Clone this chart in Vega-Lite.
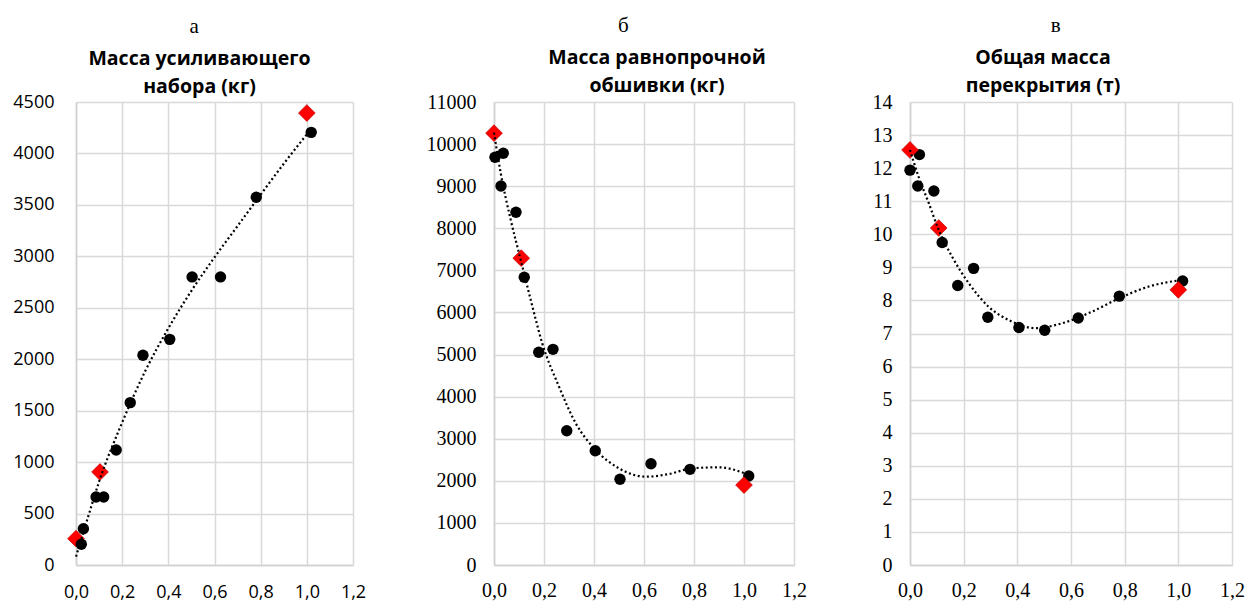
{
  "$schema": "https://vega.github.io/schema/vega-lite/v6.json",
  "padding": {"left": 12, "top": 14, "right": 0, "bottom": 0},
  "background": "white",
  "datasets": {
    "a_pts": [
      {"x": 0.0, "y": 256, "s": "red"},
      {"x": 0.104, "y": 904, "s": "red"},
      {"x": 1.0, "y": 4393, "s": "red"},
      {"x": 0.023, "y": 201, "s": "black"},
      {"x": 0.032, "y": 353, "s": "black"},
      {"x": 0.087, "y": 661, "s": "black"},
      {"x": 0.12, "y": 661, "s": "black"},
      {"x": 0.174, "y": 1118, "s": "black"},
      {"x": 0.235, "y": 1578, "s": "black"},
      {"x": 0.29, "y": 2038, "s": "black"},
      {"x": 0.406, "y": 2193, "s": "black"},
      {"x": 0.503, "y": 2800, "s": "black"},
      {"x": 0.626, "y": 2800, "s": "black"},
      {"x": 0.781, "y": 3574, "s": "black"},
      {"x": 1.019, "y": 4205, "s": "black"}
    ],
    "a_trend": [
      {"x": 0.0, "y": 81}, {"x": 0.05, "y": 450}, {"x": 0.1, "y": 810}, {"x": 0.2, "y": 1385},
      {"x": 0.3, "y": 1885}, {"x": 0.4, "y": 2300}, {"x": 0.5, "y": 2665}, {"x": 0.6, "y": 2990},
      {"x": 0.7, "y": 3295}, {"x": 0.8, "y": 3600}, {"x": 0.9, "y": 3900}, {"x": 1.0, "y": 4185},
      {"x": 1.02, "y": 4240}
    ],
    "b_pts": [
      {"x": 0.004, "y": 9686, "s": "black"},
      {"x": 0.028, "y": 9004, "s": "black"},
      {"x": 0.037, "y": 9781, "s": "black"},
      {"x": 0.088, "y": 8380, "s": "black"},
      {"x": 0.121, "y": 6835, "s": "black"},
      {"x": 0.179, "y": 5053, "s": "black"},
      {"x": 0.236, "y": 5124, "s": "black"},
      {"x": 0.291, "y": 3191, "s": "black"},
      {"x": 0.405, "y": 2716, "s": "black"},
      {"x": 0.504, "y": 2036, "s": "black"},
      {"x": 0.628, "y": 2407, "s": "black"},
      {"x": 0.784, "y": 2273, "s": "black"},
      {"x": 1.019, "y": 2114, "s": "black"},
      {"x": 0.0, "y": 10260, "s": "red"},
      {"x": 0.109, "y": 7290, "s": "red"},
      {"x": 1.0, "y": 1900, "s": "red"}
    ],
    "b_trend": [
      {"x": 0.0, "y": 10271}, {"x": 0.027, "y": 9306}, {"x": 0.067, "y": 8197}, {"x": 0.107, "y": 7246},
      {"x": 0.147, "y": 6296}, {"x": 0.193, "y": 5267}, {"x": 0.26, "y": 4237}, {"x": 0.327, "y": 3366},
      {"x": 0.407, "y": 2732}, {"x": 0.5, "y": 2297}, {"x": 0.607, "y": 2098}, {"x": 0.7, "y": 2162},
      {"x": 0.793, "y": 2297}, {"x": 0.9, "y": 2321}, {"x": 1.02, "y": 2138}
    ],
    "c_pts": [
      {"x": 0.0, "y": 11.94, "s": "black"},
      {"x": 0.029, "y": 11.46, "s": "black"},
      {"x": 0.035, "y": 12.41, "s": "black"},
      {"x": 0.089, "y": 11.31, "s": "black"},
      {"x": 0.12, "y": 9.75, "s": "black"},
      {"x": 0.178, "y": 8.45, "s": "black"},
      {"x": 0.237, "y": 8.97, "s": "black"},
      {"x": 0.29, "y": 7.49, "s": "black"},
      {"x": 0.406, "y": 7.18, "s": "black"},
      {"x": 0.502, "y": 7.1, "s": "black"},
      {"x": 0.627, "y": 7.47, "s": "black"},
      {"x": 0.78, "y": 8.13, "s": "black"},
      {"x": 1.016, "y": 8.59, "s": "black"},
      {"x": 0.0, "y": 12.55, "s": "red"},
      {"x": 0.107, "y": 10.19, "s": "red"},
      {"x": 1.0, "y": 8.32, "s": "red"}
    ],
    "c_trend": [
      {"x": 0.0, "y": 12.55}, {"x": 0.032, "y": 11.74}, {"x": 0.07, "y": 10.94}, {"x": 0.107, "y": 10.13},
      {"x": 0.157, "y": 9.32}, {"x": 0.219, "y": 8.52}, {"x": 0.293, "y": 7.81}, {"x": 0.38, "y": 7.36},
      {"x": 0.467, "y": 7.16}, {"x": 0.567, "y": 7.31}, {"x": 0.678, "y": 7.66}, {"x": 0.778, "y": 8.06},
      {"x": 0.89, "y": 8.42}, {"x": 1.014, "y": 8.62}
    ]
  },
  "hconcat": [
    {
      "title": {"text": "а", "font": "Liberation Serif", "fontSize": 21, "fontWeight": "normal", "color": "#000000", "anchor": "middle", "dx": 5, "offset": 12},
      "vconcat": [
        {
          "width": 277, "height": 463,
          "title": {"text": ["Масса усиливающего", "набора (кг)"], "font": "Open Sans", "fontSize": 19.5, "fontWeight": "bold", "color": "#000000", "lineHeight": 28, "anchor": "middle", "offset": -4, "dx": -15},
          "layer": [
            {
              "data": {"name": "a_pts"},
              "transform": [{"filter": "datum.s === 'red'"}],
              "mark": {"type": "point", "shape": "diamond", "filled": true, "size": 280, "fill": "#ff0000", "stroke": "#c00000", "strokeWidth": 0.7, "opacity": 1},
              "encoding": {
                "x": {"field": "x", "type": "quantitative", "scale": {"domain": [0, 1.2], "nice": false},
                  "axis": {"values": [0, 0.2, 0.4, 0.6, 0.8, 1.0, 1.2], "tickCount": 20, "labelExpr": "replace(format(datum.value, '.1f'), '.', ',')", "title": null, "labelFont": "Open Sans", "labelFontSize": 18, "labelPadding": 18}},
                "y": {"field": "y", "type": "quantitative", "scale": {"domain": [0, 4500], "nice": false},
                  "axis": {"values": [0, 500, 1000, 1500, 2000, 2500, 3000, 3500, 4000, 4500], "tickCount": 20, "format": "d", "title": null, "labelFont": "Open Sans", "labelFontSize": 18, "labelPadding": 22}}
              }
            },
            {
              "data": {"name": "a_pts"},
              "transform": [{"filter": "datum.s === 'black'"}],
              "mark": {"type": "circle", "size": 130, "color": "#000000", "opacity": 1},
              "encoding": {"x": {"field": "x", "type": "quantitative"}, "y": {"field": "y", "type": "quantitative"}}
            },
            {
              "data": {"name": "a_trend"},
              "mark": {"type": "line", "interpolate": "monotone", "color": "#000000", "strokeWidth": 2.2, "strokeDash": [2, 2.6]},
              "encoding": {"x": {"field": "x", "type": "quantitative"}, "y": {"field": "y", "type": "quantitative"}}
            }
          ]
        }
      ]
    },
    {
      "title": {"text": "б", "font": "Liberation Serif", "fontSize": 21, "fontWeight": "normal", "color": "#000000", "anchor": "middle", "dx": 7, "offset": 12},
      "vconcat": [
        {
          "width": 300, "height": 463,
          "title": {"text": ["Масса равнопрочной", "обшивки (кг)"], "font": "Open Sans", "fontSize": 19.5, "fontWeight": "bold", "color": "#000000", "lineHeight": 28, "anchor": "middle", "offset": -4, "dx": 13},
          "layer": [
            {
              "data": {"name": "b_pts"},
              "transform": [{"filter": "datum.s === 'black'"}],
              "mark": {"type": "circle", "size": 130, "color": "#000000", "opacity": 1},
              "encoding": {
                "x": {"field": "x", "type": "quantitative", "scale": {"domain": [0, 1.2], "nice": false},
                  "axis": {"values": [0, 0.2, 0.4, 0.6, 0.8, 1.0, 1.2], "tickCount": 20, "labelExpr": "replace(format(datum.value, '.1f'), '.', ',')", "title": null, "labelFont": "Liberation Serif", "labelFontSize": 20, "labelPadding": 15}},
                "y": {"field": "y", "type": "quantitative", "scale": {"domain": [0, 11000], "nice": false},
                  "axis": {"values": [0, 1000, 2000, 3000, 4000, 5000, 6000, 7000, 8000, 9000, 10000, 11000], "tickCount": 20, "format": "d", "title": null, "labelFont": "Liberation Serif", "labelFontSize": 20, "labelPadding": 18}}
              }
            },
            {
              "data": {"name": "b_pts"},
              "transform": [{"filter": "datum.s === 'red'"}],
              "mark": {"type": "point", "shape": "diamond", "filled": true, "size": 280, "fill": "#ff0000", "stroke": "#c00000", "strokeWidth": 0.7, "opacity": 1},
              "encoding": {"x": {"field": "x", "type": "quantitative"}, "y": {"field": "y", "type": "quantitative"}}
            },
            {
              "data": {"name": "b_trend"},
              "mark": {"type": "line", "interpolate": "monotone", "color": "#000000", "strokeWidth": 2.2, "strokeDash": [2, 2.6]},
              "encoding": {"x": {"field": "x", "type": "quantitative"}, "y": {"field": "y", "type": "quantitative"}}
            }
          ]
        }
      ]
    },
    {
      "title": {"text": "в", "font": "Liberation Serif", "fontSize": 21, "fontWeight": "normal", "color": "#000000", "anchor": "middle", "dx": 0, "offset": 12},
      "vconcat": [
        {
          "width": 322, "height": 463,
          "title": {"text": ["Общая масса", "перекрытия (т)"], "font": "Open Sans", "fontSize": 19.5, "fontWeight": "bold", "color": "#000000", "lineHeight": 28, "anchor": "middle", "offset": -4, "dx": -28},
          "layer": [
            {
              "data": {"name": "c_pts"},
              "transform": [{"filter": "datum.s === 'black'"}],
              "mark": {"type": "circle", "size": 130, "color": "#000000", "opacity": 1},
              "encoding": {
                "x": {"field": "x", "type": "quantitative", "scale": {"domain": [0, 1.2], "nice": false},
                  "axis": {"values": [0, 0.2, 0.4, 0.6, 0.8, 1.0, 1.2], "tickCount": 20, "labelExpr": "replace(format(datum.value, '.1f'), '.', ',')", "title": null, "labelFont": "Liberation Serif", "labelFontSize": 20, "labelPadding": 15}},
                "y": {"field": "y", "type": "quantitative", "scale": {"domain": [0, 14], "nice": false},
                  "axis": {"values": [0, 1, 2, 3, 4, 5, 6, 7, 8, 9, 10, 11, 12, 13, 14], "tickCount": 20, "format": "d", "title": null, "labelFont": "Liberation Serif", "labelFontSize": 20, "labelPadding": 18, "minExtent": 43}}
              }
            },
            {
              "data": {"name": "c_pts"},
              "transform": [{"filter": "datum.s === 'red'"}],
              "mark": {"type": "point", "shape": "diamond", "filled": true, "size": 280, "fill": "#ff0000", "stroke": "#c00000", "strokeWidth": 0.7, "opacity": 1},
              "encoding": {"x": {"field": "x", "type": "quantitative"}, "y": {"field": "y", "type": "quantitative"}}
            },
            {
              "data": {"name": "c_trend"},
              "mark": {"type": "line", "interpolate": "monotone", "color": "#000000", "strokeWidth": 2.2, "strokeDash": [2, 2.6]},
              "encoding": {"x": {"field": "x", "type": "quantitative"}, "y": {"field": "y", "type": "quantitative"}}
            }
          ]
        }
      ]
    }
  ],
  "spacing": 60,
  "config": {
    "view": {"stroke": null},
    "axis": {"grid": true, "gridColor": "#d9d9d9", "gridWidth": 1.5, "domainColor": "#d0d0d0", "domainWidth": 1.5, "ticks": false, "labelColor": "#000000", "labelOverlap": false, "labelFlush": false},
    "title": {"subtitlePadding": 6}
  }
}
